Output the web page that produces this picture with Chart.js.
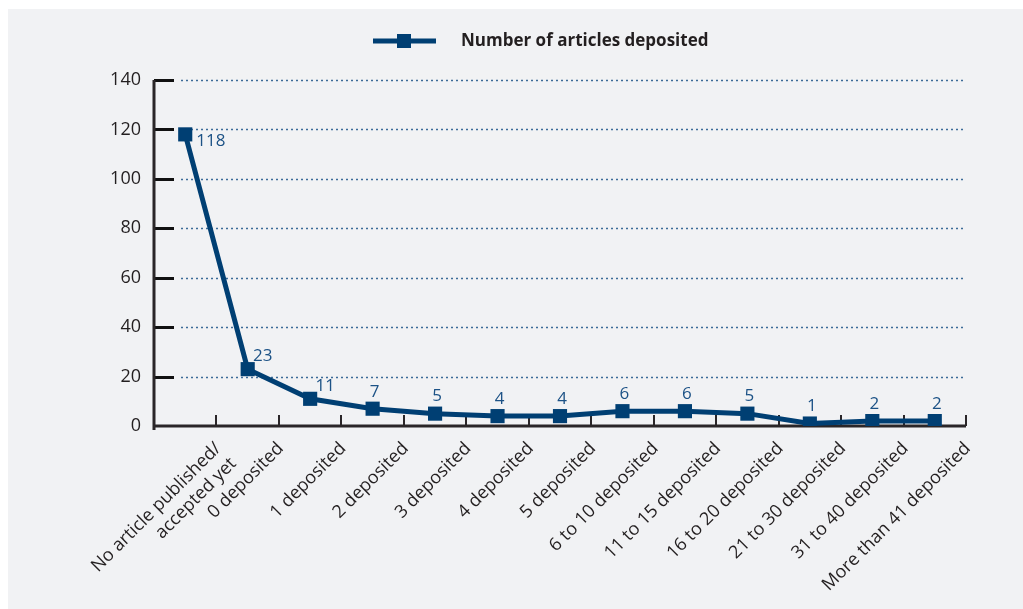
<!DOCTYPE html>
<html>
<head>
<meta charset="utf-8">
<script src="https://cdn.jsdelivr.net/npm/chart.js@4.4.1/dist/chart.umd.min.js"></script>
<style>
  html, body { margin: 0; padding: 0; background: #ffffff; }
  #panel { position: absolute; left: 8px; top: 9px; width: 1015px; height: 600px; background: #f1f2f4; }
  canvas { display: block; }
</style>
</head>
<body>
<div id="panel"><canvas id="chart" width="1015" height="600"></canvas></div>
<script>
// categories and counts
const categories = [
  ['No article published/', 'accepted yet'],
  '0 deposited', '1 deposited', '2 deposited', '3 deposited', '4 deposited',
  '5 deposited', '6 to 10 deposited', '11 to 15 deposited', '16 to 20 deposited',
  '21 to 30 deposited', '31 to 40 deposited', 'More than 41 deposited'
];
const articles = [118, 23, 11, 7, 5, 4, 4, 6, 6, 5, 1, 2, 2];
const yTicks = [0, 20, 40, 60, 80, 100, 120, 140];
const seriesName = 'Number of articles deposited';

// where each value label sits relative to its marker
const labelSpots = ['right', 'upRight', 'upRight', 'up', 'up', 'up', 'up', 'up', 'up', 'up', 'up', 'up', 'up'];

const NAVY = '#003f73';
const INK = '#231f20';
const FONT = '"Open Sans", "Liberation Sans", sans-serif';

const axisDecor = {
  id: 'axisDecor',
  beforeDatasetsDraw(chart) {
    const { ctx, chartArea: a, scales: { x, y } } = chart;
    ctx.save();
    // dotted gridlines
    ctx.strokeStyle = '#3c6b98';
    ctx.lineWidth = 1.5;
    ctx.setLineDash([2, 3]);
    yTicks.forEach(v => {
      if (v === 0) return;
      const py = Math.round(y.getPixelForValue(v)) + 0.5;
      ctx.beginPath();
      ctx.moveTo(a.left + 27, py);
      ctx.lineTo(a.right, py);
      ctx.stroke();
    });
    ctx.setLineDash([]);
    // black tick stubs inside the y axis
    ctx.strokeStyle = '#111';
    ctx.lineWidth = 3;
    yTicks.forEach(v => {
      if (v === 0) return;
      const py = Math.round(y.getPixelForValue(v)) + 0.5;
      ctx.beginPath();
      ctx.moveTo(a.left, py);
      ctx.lineTo(a.left + 20, py);
      ctx.stroke();
    });
    // axis lines
    ctx.strokeStyle = '#2a2628';
    ctx.lineWidth = 3;
    ctx.beginPath();
    ctx.moveTo(a.left, a.top);
    ctx.lineTo(a.left, a.bottom + 4);
    ctx.stroke();
    ctx.beginPath();
    ctx.moveTo(a.left, a.bottom);
    ctx.lineTo(a.right, a.bottom);
    ctx.stroke();
    // category boundary ticks on the x axis
    ctx.lineWidth = 2;
    const half = (x.getPixelForTick(1) - x.getPixelForTick(0)) / 2;
    for (let i = 0; i < categories.length; i++) {
      const px = Math.round(x.getPixelForTick(i) + half);
      ctx.beginPath();
      ctx.moveTo(px, a.bottom);
      ctx.lineTo(px, a.bottom - 11);
      ctx.stroke();
    }
    ctx.restore();
  },
  afterDatasetsDraw(chart) {
    const { ctx } = chart;
    const meta = chart.getDatasetMeta(0);
    ctx.save();
    // value labels
    ctx.fillStyle = '#1c5286';
    ctx.font = '17px ' + FONT;
    ctx.textBaseline = 'middle';
    meta.data.forEach((pt, i) => {
      const spot = labelSpots[i];
      const txt = String(articles[i]);
      if (spot === 'right') {
        ctx.textAlign = 'left';
        ctx.fillText(txt, pt.x + 11, pt.y + 7);
      } else if (spot === 'upRight') {
        ctx.textAlign = 'center';
        ctx.fillText(txt, pt.x + 15, pt.y - 13);
      } else {
        ctx.textAlign = 'center';
        ctx.fillText(txt, pt.x + 2, pt.y - 17);
      }
    });
    // legend: line with square marker, then bold name
    const ly = 32;
    ctx.strokeStyle = NAVY;
    ctx.lineWidth = 5;
    ctx.beginPath();
    ctx.moveTo(365, ly);
    ctx.lineTo(428, ly);
    ctx.stroke();
    ctx.fillStyle = NAVY;
    ctx.fillRect(389, ly - 7, 14, 14);
    ctx.fillStyle = INK;
    ctx.font = 'bold 17px ' + FONT;
    ctx.textAlign = 'left';
    ctx.fillText(seriesName, 453, ly);
    ctx.restore();
  }
};

new Chart(document.getElementById('chart'), {
  type: 'line',
  data: {
    labels: categories,
    datasets: [{
      label: seriesName,
      data: articles,
      borderColor: NAVY,
      backgroundColor: NAVY,
      borderWidth: 5,
      tension: 0,
      pointStyle: 'rect',
      pointRadius: 10,
      pointHoverRadius: 10,
      pointBackgroundColor: NAVY,
      pointBorderWidth: 0
    }]
  },
  options: {
    responsive: false,
    animation: false,
    layout: { padding: { top: 71, right: 57, left: 0, bottom: 0 } },
    plugins: {
      legend: { display: false },
      tooltip: { enabled: false }
    },
    scales: {
      x: {
        offset: true,
        grid: { display: false, drawTicks: false },
        border: { display: false },
        ticks: {
          color: INK,
          font: { family: FONT, size: 18 },
          maxRotation: 45,
          minRotation: 45,
          autoSkip: false,
          labelOffset: 33,
          padding: 12
        },
        afterFit(scale) { scale.height = 183; }
      },
      y: {
        min: 0,
        max: 140,
        grid: { display: false, drawTicks: false },
        border: { display: false },
        ticks: {
          stepSize: 20,
          color: INK,
          font: { family: FONT, size: 18 },
          padding: 13
        },
        afterFit(scale) { scale.width = 146; }
      }
    }
  },
  plugins: [axisDecor]
});
</script>
</body>
</html>
